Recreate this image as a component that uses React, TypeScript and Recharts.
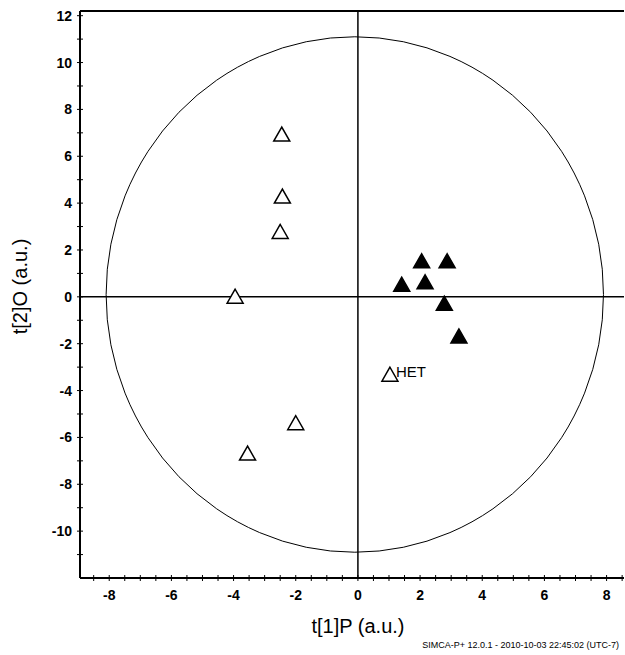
import React from "react";
import {
  ScatterChart,
  Scatter,
  XAxis,
  YAxis,
  ReferenceLine,
  ReferenceArea,
  Label,
} from "recharts";

const openPoints = [
  { x: -2.45, y: 6.92 },
  { x: -2.43, y: 4.27 },
  { x: -2.5, y: 2.76 },
  { x: -3.95, y: 0.0 },
  { x: -2.0, y: -5.4 },
  { x: -3.55, y: -6.7 },
];
const hetPoints = [{ x: 1.03, y: -3.33, name: "HET" }];
const filledPoints = [
  { x: 2.05, y: 1.51 },
  { x: 2.87, y: 1.51 },
  { x: 1.41, y: 0.51 },
  { x: 2.16, y: 0.61 },
  { x: 2.78, y: -0.3 },
  { x: 3.25, y: -1.7 },
];

const xTicks = [
  -8.5, -8, -7.5, -7, -6.5, -6, -5.5, -5, -4.5, -4, -3.5, -3, -2.5, -2, -1.5, -1, -0.5, 0,
  0.5, 1, 1.5, 2, 2.5, 3, 3.5, 4, 4.5, 5, 5.5, 6, 6.5, 7, 7.5, 8, 8.5,
];
const xLabels = [-8, -6, -4, -2, 0, 2, 4, 6, 8];
const yTicks = [
  -11, -10, -9, -8, -7, -6, -5, -4, -3, -2, -1, 0, 1, 2, 3, 4, 5, 6, 7, 8, 9, 10, 11, 12,
];
const yLabels = [-10, -8, -6, -4, -2, 0, 2, 4, 6, 8, 10, 12];

const xDomain = [-8.94, 8.56];
const yDomain = [-12, 12.2];
const ellipseX = [-8.1, 7.9];
const ellipseY = [-10.9, 11.1];

const FONT = "'Liberation Sans', Arial, sans-serif";

const XTick = (props: any) => {
  const { x, y, payload } = props;
  const show = xLabels.includes(payload.value);
  return (
    <g>
      <line x1={x} x2={x} y1={y - 3} y2={y + 3} stroke="#000" strokeWidth={1} />
      {show && (
        <text x={x} y={y + 22} textAnchor="middle" fontFamily={FONT} fontWeight="bold" fontSize={14} fill="#000">
          {payload.value}
        </text>
      )}
    </g>
  );
};

const YTick = (props: any) => {
  const { x, y, payload } = props;
  const show = yLabels.includes(payload.value);
  return (
    <g>
      <line x1={x - 3} x2={x + 3} y1={y} y2={y} stroke="#000" strokeWidth={1} />
      {show && (
        <text x={x - 8} y={y + 5} textAnchor="end" fontFamily={FONT} fontWeight="bold" fontSize={14} fill="#000">
          {payload.value}
        </text>
      )}
    </g>
  );
};

const Tri = ({ cx, cy, filled }: { cx: number; cy: number; filled: boolean }) => {
  const w = 8;
  const h = 14;
  const pts = `${cx},${cy - h * 0.55} ${cx - w},${cy + h * 0.45} ${cx + w},${cy + h * 0.45}`;
  return (
    <polygon
      points={pts}
      fill={filled ? "#000" : "#fff"}
      stroke="#000"
      strokeWidth={1.5}
      strokeLinejoin="miter"
    />
  );
};

const EllipseShape = (props: any) => {
  const { x, y, width, height } = props;
  return (
    <ellipse
      cx={x + width / 2}
      cy={y + height / 2}
      rx={width / 2}
      ry={height / 2}
      fill="none"
      stroke="#000"
      strokeWidth={1}
    />
  );
};

export default function App() {
  return (
    <div style={{ position: "absolute", left: 0, top: 0, width: 625, height: 655, background: "#fff" }}>
      <ScatterChart
        width={625}
        height={655}
        margin={{ top: 11, right: 1, left: 0, bottom: 27 }}
      >
        <XAxis
          type="number"
          dataKey="x"
          domain={xDomain}
          ticks={xTicks}
          interval={0}
          allowDataOverflow
          tick={<XTick />}
          tickLine={false}
          tickSize={0}
          tickMargin={0}
          height={50}
          axisLine={{ stroke: "#000", strokeWidth: 2 }}
        >
          <Label
            value="t[1]P (a.u.)"
            position="insideBottom"
            offset={-5}
            dx={6}
            style={{ fontFamily: FONT, fontSize: 20, fill: "#000" }}
          />
        </XAxis>
        <YAxis
          type="number"
          dataKey="y"
          domain={yDomain}
          ticks={yTicks}
          interval={0}
          allowDataOverflow
          tick={<YTick />}
          tickLine={false}
          tickSize={0}
          tickMargin={0}
          width={80}
          axisLine={{ stroke: "#000", strokeWidth: 2 }}
        >
          <Label
            value="t[2]O (a.u.)"
            angle={-90}
            position="insideLeft"
            offset={20}
            dy={-8}
            style={{ fontFamily: FONT, fontSize: 20, fill: "#000", textAnchor: "middle" }}
          />
        </YAxis>
        <ReferenceArea
          x1={ellipseX[0]}
          x2={ellipseX[1]}
          y1={ellipseY[0]}
          y2={ellipseY[1]}
          shape={<EllipseShape />}
        />
        <ReferenceLine x={0} stroke="#000" strokeWidth={1.5} />
        <ReferenceLine y={0} stroke="#000" strokeWidth={1.5} />
        <ReferenceLine y={yDomain[1]} stroke="#000" strokeWidth={2} />
        <Scatter
          data={openPoints}
          isAnimationActive={false}
          shape={(p: any) => <Tri cx={p.cx} cy={p.cy} filled={false} />}
        />
        <Scatter
          data={hetPoints}
          isAnimationActive={false}
          shape={(p: any) => (
            <g>
              <Tri cx={p.cx} cy={p.cy} filled={false} />
              <text x={p.cx + 6} y={p.cy + 2} fontFamily={FONT} fontSize={15} fill="#000">
                {p.payload.name}
              </text>
            </g>
          )}
        />
        <Scatter
          data={filledPoints}
          isAnimationActive={false}
          shape={(p: any) => <Tri cx={p.cx} cy={p.cy} filled />}
        />
      </ScatterChart>
      <div
        style={{
          position: "absolute",
          right: 6,
          top: 640,
          fontFamily: FONT,
          fontSize: 9,
          color: "#000",
          whiteSpace: "nowrap",
        }}
      >
        SIMCA-P+ 12.0.1 - 2010-10-03 22:45:02 (UTC-7)
      </div>
    </div>
  );
}
